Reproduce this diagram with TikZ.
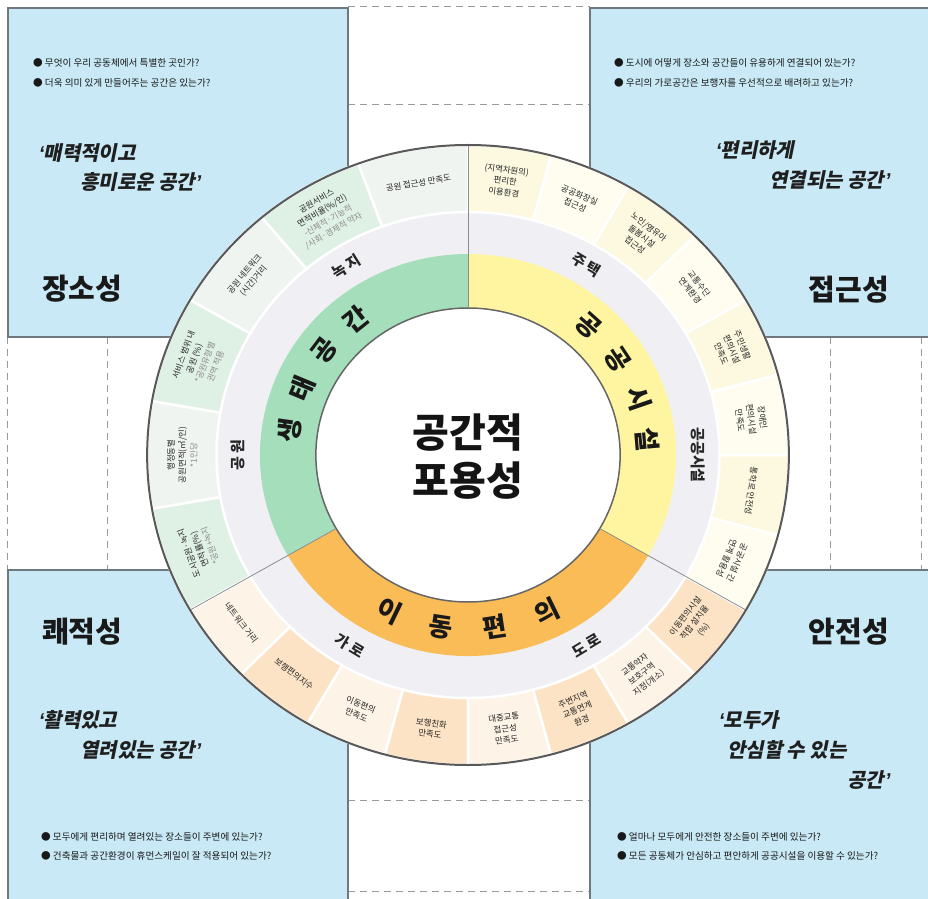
\documentclass[tikz,border=0pt]{standalone}
\usepackage{fontspec}
\setmainfont{Noto Sans CJK KR}
\newfontfamily\krq{Noto Sans CJK KR}[FakeSlant=0.2]
\newfontfamily\qm{Liberation Sans}[FakeSlant=0.15]
\definecolor{boxblue}{HTML}{C8E9F5}
\definecolor{boxline}{HTML}{6E787E}
\definecolor{guidegray}{HTML}{9A9A9A}
\definecolor{bandgray}{HTML}{F0F0F4}
\definecolor{greenband}{HTML}{A5DEBB}
\definecolor{yellowband}{HTML}{FFF5A0}
\definecolor{orangeband}{HTML}{F9BC57}
\definecolor{gA}{HTML}{F0F4F1}
\definecolor{gB}{HTML}{DFF0E5}
\definecolor{yA}{HTML}{FCF9E0}
\definecolor{yB}{HTML}{FEFDF0}
\definecolor{oA}{HTML}{FEF3E7}
\definecolor{oB}{HTML}{FCE3C5}
\newcommand{\myLq}{{\qm\bfseries ‘}}
\newcommand{\myRq}{{\qm\bfseries ’}}
\begin{document}
\begin{tikzpicture}[x=1pt,y=1pt,
  box/.style={fill=boxblue, draw=boxline, line width=1.6pt},
  guide/.style={draw=guidegray, dash pattern=on 7pt off 5pt, line width=1pt},
  bul/.style={anchor=west, inner sep=0, font=\fontsize{9.6}{11}\selectfont, text=black!90},
  quote/.style={inner sep=0, font=\krq\bfseries\fontsize{20}{24}\selectfont, text=black!88},
  title/.style={inner sep=0, font=\bfseries\fontsize{29}{34}\selectfont, text=black!90},
  cell/.style={inner sep=0, align=center, font=\fontsize{8.4}{11.4}\selectfont, text=black!85},
  sub/.style={inner sep=0, font=\bfseries\fontsize{15}{18}\selectfont, text=black!85},
  big/.style={inner sep=0, font=\bfseries\fontsize{26}{30}\selectfont, text=black!90},
  sector/.style={draw=white, line width=2.5pt},
  sepline/.style={draw=black!45, line width=0.8pt}]
\useasboundingbox (0,0) rectangle (928,898);
\clip (0,0) rectangle (928,898);
\fill[white] (0,0) rectangle (928,898);

% guide lines (dashed frame)
\draw[guide] (348,891) -- (590,891);
\draw[guide] (348,793) -- (590,793);
\draw[guide] (348,98) -- (590,98);
\draw[guide] (348,7) -- (590,7);
\draw[guide] (7,561) -- (7,328);
\draw[guide] (107,561) -- (107,328);
\draw[guide] (830,561) -- (830,328);
\draw[guide] (921,561) -- (921,328);

% corner boxes
\draw[box] (8,890) rectangle (348,561);
\draw[box] (590,890) rectangle (945,561);
\draw[box] (8,328) rectangle (348,-10);
\draw[box] (590,328) rectangle (945,-10);

% circle diagram
\begin{scope}[shift={(468,443)}, xscale=1.035]
  \fill[white] (0,0) circle[radius=310];
  \fill[bandgray] (0,0) circle[radius=243];
  \fill[greenband] (90:147) arc[start angle=90, end angle=210, radius=147] -- (210:201) arc[start angle=210, end angle=90, radius=201] -- cycle;
  \fill[orangeband] (210:147) arc[start angle=210, end angle=330, radius=147] -- (330:201) arc[start angle=330, end angle=210, radius=201] -- cycle;
  \fill[yellowband] (-30:147) arc[start angle=-30, end angle=90, radius=147] -- (90:201) arc[start angle=90, end angle=-30, radius=201] -- cycle;
  % green cells
  \foreach \ang/\sa/\ea/\col/\txt [count=\i] in {
    100/90/110/gA/{공원 접근성 만족도},
    120/110/130/gB/{공원서비스\\면적비율(\%/인)\\{\color{black!45}-신체적·기능적}\\{\color{black!45}/사회·경제적 약자}},
    140/130/150/gA/{공원 네트워크\\(시간)거리},
    160/150/170/gB/{서비스 범위 내\\공원 (\%)\\{\color{black!45}*공원유형별}\\{\color{black!45}권역 적용}},
    180/170/190/gA/{행정동별\\공원면적(㎡/인)\\{\color{black!45}*1인당}},
    200/190/210/gB/{도시공원·녹지\\면적률(\%)\\{\color{black!45}*공원+녹지}}} {
    \filldraw[sector, fill=\col] (\sa:243) arc[start angle=\sa, end angle=\ea, radius=243] -- (\ea:310) arc[start angle=\ea, end angle=\sa, radius=310] -- cycle;
    \node[cell, rotate=\ang-90] (gc\i) at (\ang:276) {\txt};
  }
  % yellow cells
  \foreach \ang/\sa/\ea/\col/\txt [count=\i] in {
    82.5/75/90/yA/{(지역차원의)\\편리한\\이용환경},
    67.5/60/75/yB/{공공화장실\\접근성},
    52.5/45/60/yA/{노인/영유아\\돌봄시설\\접근성},
    37.5/30/45/yB/{교통수단\\연계환경},
    22.5/15/30/yA/{주민생활\\편의시설\\만족도},
    7.5/0/15/yB/{장애인\\편의시설\\만족도},
    -7.5/-15/0/yA/{통학로 안전성},
    -22.5/-30/-15/yB/{공공시설 간\\연계 활용성}} {
    \filldraw[sector, fill=\col] (\sa:243) arc[start angle=\sa, end angle=\ea, radius=243] -- (\ea:310) arc[start angle=\ea, end angle=\sa, radius=310] -- cycle;
    \node[cell, rotate=\ang-90] (yc\i) at (\ang:276) {\txt};
  }
  % orange cells
  \foreach \ang/\sa/\ea/\col/\txt [count=\i] in {
    217.5/210/225/oA/{네트워크 거리},
    232.5/225/240/oB/{보행편의지수},
    247.5/240/255/oA/{이동편의\\만족도},
    262.5/255/270/oB/{보행친화\\만족도},
    277.5/270/285/oA/{대중교통\\접근성\\만족도},
    292.5/285/300/oB/{주변지역\\교통연계\\환경},
    307.5/300/315/oA/{교통약자\\보호구역\\지정(개소)},
    322.5/315/330/oB/{이동편의시설\\적합 설치율\\(\%)}} {
    \filldraw[sector, fill=\col] (\sa:243) arc[start angle=\sa, end angle=\ea, radius=243] -- (\ea:310) arc[start angle=\ea, end angle=\sa, radius=310] -- cycle;
    \node[cell, rotate=\ang+90] (oc\i) at (\ang:276) {\txt};
  }
  % centre disk
  \filldraw[fill=white, draw=black!60, line width=1.5pt] (0,0) circle[radius=147];
  % separators
  \draw[sepline] (90:147) -- (90:310);
  \draw[sepline] (210:147) -- (210:310);
  \draw[sepline] (330:147) -- (330:310);
  % outer rim
  \draw[draw=black!65, line width=2pt] (0,0) circle[radius=310];

  % sector titles
  \foreach \ang/\ch [count=\i] in {172/생,157.5/태,143/공,128.5/간}
    \node[big, rotate=\ang-90] (gb\i) at (\ang:174) {\ch};
  \foreach \ang/\ch [count=\i] in {48/공,33.5/공,19/시,5/설}
    \node[big, rotate=\ang-90] (yb\i) at (\ang:174) {\ch};
  \foreach \ang/\ch [count=\i] in {244/이,261.3/동,278.7/편,296/의}
    \node[big, rotate=\ang+90] (ob\i) at (\ang:174) {\ch};

  % sub group labels
  \node[sub, rotate=32] (s1) at (122:222) {녹 지};
  \node[sub, rotate=-31] (s2) at (59:222) {주 택};
  \node[sub, rotate=-90] (s3) at (0:222) {공공시설};
  \node[sub, rotate=90] (s4) at (180:222) {공 원};
  \node[sub, rotate=-31] (s5) at (239:222) {가 로};
  \node[sub, rotate=31] (s6) at (301:222) {도 로};

  % centre title
  \node[inner sep=0, align=center, font=\bfseries\fontsize{40}{48}\selectfont, text=black!92] (center) at (0,-2) {공간적\\포용성};
\end{scope}

% top-left box
\node[bul] (tlb1) at (33,835) {● 무엇이 우리 공동체에서 특별한 곳인가?};
\node[bul] (tlb2) at (33,815) {● 더욱 의미 있게 만들어주는 공간은 있는가?};
\node[quote, anchor=west] (tlq1) at (38,745) {\myLq 매력적이고};
\node[quote, anchor=west] (tlq2) at (80,716) {흥미로운 공간\myRq};
\node[title, anchor=west] (tlt) at (42,609) {장소성};

% top-right box
\node[bul] (trb1) at (614,835) {● 도시에 어떻게 장소와 공간들이 유용하게 연결되어 있는가?};
\node[bul] (trb2) at (614,815) {● 우리의 가로공간은 보행자를 우선적으로 배려하고 있는가?};
\node[quote, anchor=west] (trq1) at (715,748) {\myLq 편리하게};
\node[quote, anchor=east] (trq2) at (890,718) {연결되는 공간\myRq};
\node[title, anchor=east] (trt) at (889,608) {접근성};

% bottom-left box
\node[title, anchor=west] (blt) at (42,266) {쾌적성};
\node[quote, anchor=west] (blq1) at (38,178) {\myLq 활력있고};
\node[quote, anchor=west] (blq2) at (80,148) {열려있는 공간\myRq};
\node[bul] (blb1) at (41,61) {● 모두에게 편리하며 열려있는 장소들이 주변에 있는가?};
\node[bul] (blb2) at (41,42) {● 건축물과 공간환경이 휴먼스케일이 잘 적용되어 있는가?};

% bottom-right box
\node[title, anchor=east] (brt) at (889,266) {안전성};
\node[quote, anchor=west] (brq1) at (718,178) {\myLq 모두가};
\node[quote, anchor=west] (brq2) at (727,148) {안심할 수 있는};
\node[quote, anchor=east] (brq3) at (890,118) {공간\myRq};
\node[bul] (brb1) at (617,61) {● 얼마나 모두에게 안전한 장소들이 주변에 있는가?};
\node[bul] (brb2) at (617,42) {● 모든 공동체가 안심하고 편안하게 공공시설을 이용할 수 있는가?};
\end{tikzpicture}
\end{document}
